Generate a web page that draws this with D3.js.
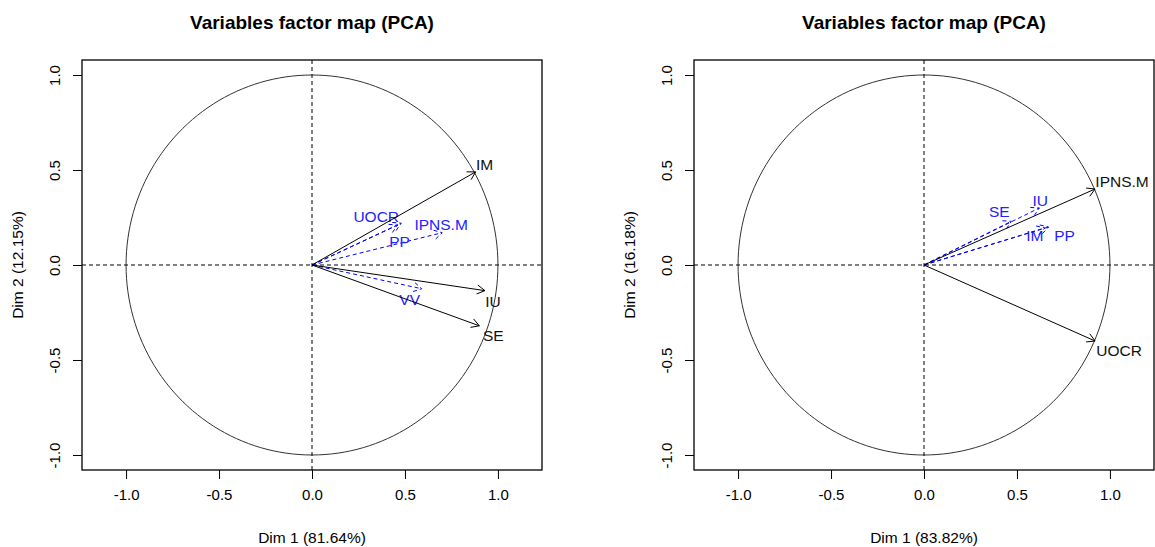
<!DOCTYPE html>
<html>
<head>
<meta charset="utf-8">
<script src="https://cdn.jsdelivr.net/npm/d3@7"></script>
<style>
  body { margin: 0; background: #fff; }
  svg { display: block; font-family: "Liberation Sans", Arial, sans-serif; }
</style>
</head>
<body>
<svg width="1155" height="547"></svg>
<script>
// ---- data ----
var titles = ["Variables factor map (PCA)", "Variables factor map (PCA)"];
var xLabels = ["Dim 1 (81.64%)", "Dim 1 (83.82%)"];
var yLabels = ["Dim 2 (12.15%)", "Dim 2 (16.18%)"];
var tickValues = [-1.0, -0.5, 0.0, 0.5, 1.0];

// left map: active (black) and supplementary (blue) variables
var leftActiveNames = ["IM", "IU", "SE"];
var leftActiveDim1 = [0.88, 0.93, 0.90];
var leftActiveDim2 = [0.49, -0.135, -0.32];
var leftSupNames = ["UOCR", "IPNS.M", "PP", "VV"];
var leftSupDim1 = [0.48, 0.70, 0.46, 0.59];
var leftSupDim2 = [0.22, 0.17, 0.21, -0.125];

// right map
var rightActiveNames = ["IPNS.M", "UOCR"];
var rightActiveDim1 = [0.92, 0.92];
var rightActiveDim2 = [0.40, -0.40];
var rightSupNames = ["IU", "SE", "IM", "PP"];
var rightSupDim1 = [0.62, 0.47, 0.65, 0.67];
var rightSupDim2 = [0.30, 0.23, 0.195, 0.20];

// label placement (pixel centres relative to arrow tip), like autoLab did
var nudge = {
  left: { IM: [9, -7], IU: [8, 11], SE: [14, 10], UOCR: [-25, -7], "IPNS.M": [-1, -8], PP: [2, 16], VV: [-12, 11] },
  right: { "IPNS.M": [27, -7], UOCR: [24, 10], IU: [1, -7], SE: [-12, -10], IM: [-10, 8], PP: [16, 9] }
};

var svg = d3.select("svg");

function drawPanel(p) {
  var g = svg.append("g");
  var x = d3.scaleLinear().domain([-1.237, 1.237]).range([p.left, p.left + 460]);
  var y = d3.scaleLinear().domain([-1.079, 1.079]).range([470, 60]);
  var cx = x(0), cy = y(0);
  var fmt = function (d) { return d3.format(".1f")(d).replace("\u2212", "-"); };

  g.append("text")
    .attr("x", cx).attr("y", 29)
    .attr("text-anchor", "middle")
    .attr("font-size", 19).attr("font-weight", "bold")
    .text(p.title);

  // axes
  var xa = g.append("g").attr("transform", "translate(0,470)")
    .call(d3.axisBottom(x).tickValues(tickValues).tickFormat(fmt).tickSize(9).tickPadding(10));
  var ya = g.append("g").attr("transform", "translate(" + p.left + ",0)")
    .call(d3.axisLeft(y).tickValues(tickValues).tickFormat(fmt).tickSize(9));
  [xa, ya].forEach(function (a) {
    a.select(".domain").remove();
    a.selectAll("line").attr("stroke", "#000");
    a.selectAll("text").attr("font-size", 15).attr("fill", "#000").attr("font-family", "Liberation Sans, Arial, sans-serif");
  });
  ya.selectAll("text")
    .attr("text-anchor", "middle")
    .attr("x", 0).attr("dy", 0)
    .attr("transform", "translate(-22,0) rotate(-90)");

  g.append("text")
    .attr("x", cx).attr("y", 543)
    .attr("text-anchor", "middle").attr("font-size", 15.5)
    .text(p.xLabel);
  g.append("text")
    .attr("transform", "translate(" + (p.left - 59) + "," + cy + ") rotate(-90)")
    .attr("text-anchor", "middle").attr("font-size", 15.5)
    .text(p.yLabel);

  // box
  g.append("rect")
    .attr("x", p.left).attr("y", 60).attr("width", 460).attr("height", 410)
    .attr("fill", "none").attr("stroke", "#000").attr("stroke-width", 1.3);

  // unit circle
  var circ = d3.range(0, 361, 2).map(function (a) {
    var r = a * Math.PI / 180;
    return [x(Math.cos(r)), y(Math.sin(r))];
  });
  g.append("path").attr("d", d3.line()(circ))
    .attr("fill", "none").attr("stroke", "#333").attr("stroke-width", 1);

  // dashed zero lines
  g.append("line").attr("x1", p.left).attr("x2", p.left + 460).attr("y1", cy).attr("y2", cy)
    .attr("stroke", "#000").attr("stroke-dasharray", "4,3");
  g.append("line").attr("x1", cx).attr("x2", cx).attr("y1", 60).attr("y2", 470)
    .attr("stroke", "#000").attr("stroke-dasharray", "4,3");

  function arrows(names, d1, d2, color, dashed) {
    names.forEach(function (n, i) {
      var tx = x(d1[i]), ty = y(d2[i]);
      var ang = Math.atan2(ty - cy, tx - cx);
      var L = 9, h = Math.PI / 6;
      var path = d3.path();
      path.moveTo(cx, cy); path.lineTo(tx, ty);
      path.moveTo(tx - L * Math.cos(ang - h), ty - L * Math.sin(ang - h));
      path.lineTo(tx, ty);
      path.lineTo(tx - L * Math.cos(ang + h), ty - L * Math.sin(ang + h));
      g.append("path").attr("d", path.toString())
        .attr("fill", "none").attr("stroke", color).attr("stroke-width", 1)
        .attr("stroke-dasharray", dashed ? "4,3" : null);
      var off = p.nudge[n];
      g.append("text")
        .attr("x", tx + off[0]).attr("y", ty + off[1])
        .attr("dy", "0.35em").attr("text-anchor", "middle")
        .attr("font-size", 15.5).attr("fill", color === "blue" ? "#2222ff" : "#111")
        .text(n);
    });
  }
  arrows(p.supNames, p.supD1, p.supD2, "blue", true);
  arrows(p.actNames, p.actD1, p.actD2, "#000", false);
}

drawPanel({
  left: 82, title: titles[0], xLabel: xLabels[0], yLabel: yLabels[0],
  actNames: leftActiveNames, actD1: leftActiveDim1, actD2: leftActiveDim2,
  supNames: leftSupNames, supD1: leftSupDim1, supD2: leftSupDim2, nudge: nudge.left
});
drawPanel({
  left: 694, title: titles[1], xLabel: xLabels[1], yLabel: yLabels[1],
  actNames: rightActiveNames, actD1: rightActiveDim1, actD2: rightActiveDim2,
  supNames: rightSupNames, supD1: rightSupDim1, supD2: rightSupDim2, nudge: nudge.right
});
</script>
</body>
</html>
